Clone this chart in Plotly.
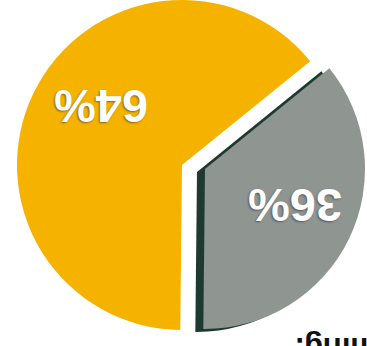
import plotly.graph_objects as go

# ---- data ----
segments = ["Segment B", "Segment A"]
shares = [36, 64]
share_labels = [f"{v}%" for v in shares]
caption_fragment = "ming."

# ---- layout helpers (pixel geometry of the photographed chart) ----
W, H = 367, 346
TRANSPARENT = "rgba(0,0,0,0)"


def dom(cx, cy, r):
    x0, x1 = max(0, (cx - r) / W), min(1, (cx + r) / W)
    y0, y1 = max(0, (H - (cy + r)) / H), min(1, (H - (cy - r)) / H)
    return dict(x=[x0, x1], y=[y0, y1])


def pie_layer(colors, domain):
    return go.Pie(
        labels=segments,
        values=shares,
        sort=False,
        direction="clockwise",
        rotation=51,
        marker=dict(colors=colors, line=dict(width=0)),
        textinfo="none",
        hoverinfo="skip",
        showlegend=False,
        domain=domain,
    )


fig = go.Figure()
# dark side edge of the pulled-out slice
fig.add_trace(pie_layer(["#1E3A30", TRANSPARENT], dom(197, 172, 160)))
# pulled-out grey slice
fig.add_trace(pie_layer(["#8F9591", TRANSPARENT], dom(205, 169, 160)))
# main orange slice
fig.add_trace(pie_layer([TRANSPARENT, "#F5B300"], dom(182, 165, 165)))

label_pos = {0: (295 / W, (H - 205) / H), 1: (101 / W, (H - 107) / H)}
annotations = []
for i, txt in enumerate(share_labels):
    x, y = label_pos[i]
    annotations.append(dict(
        x=x, y=y, xref="paper", yref="paper", text=f"<b>{txt}</b>",
        showarrow=False, textangle=180, xanchor="center", yanchor="middle",
        font=dict(family="Liberation Sans, Arial, sans-serif", size=47, color="white",
                  shadow="1px -1px 2px rgba(40,40,40,0.55)"),
    ))
annotations.append(dict(
    x=337 / W, y=(H - 349) / H, xref="paper", yref="paper",
    text=f"<b>{caption_fragment}</b>", showarrow=False, textangle=180,
    xanchor="center", yanchor="middle",
    font=dict(family="Liberation Sans, Arial, sans-serif", size=31, color="#111111"),
))

fig.update_layout(
    width=W, height=H,
    margin=dict(l=0, r=0, t=0, b=0),
    paper_bgcolor="white", plot_bgcolor="white",
    annotations=annotations,
)

fig.write_html(
    "out.html",
    config={"displayModeBar": False},
    post_script="document.body.style.margin='0';document.body.style.overflow='hidden';",
)
